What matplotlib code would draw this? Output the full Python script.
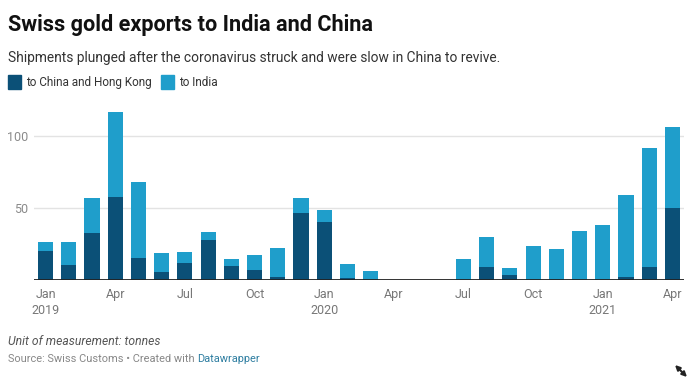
import matplotlib
matplotlib.use("Agg")
import matplotlib.pyplot as plt
import numpy as np

plt.rcParams["font.family"] = ["Roboto", "DejaVu Sans"]

# monthly values, Jan 2019 .. Apr 2021 (tonnes)
months = ["Jan 2019", "Feb 2019", "Mar 2019", "Apr 2019", "May 2019", "Jun 2019",
          "Jul 2019", "Aug 2019", "Sep 2019", "Oct 2019", "Nov 2019", "Dec 2019",
          "Jan 2020", "Feb 2020", "Mar 2020", "Apr 2020", "May 2020", "Jun 2020",
          "Jul 2020", "Aug 2020", "Sep 2020", "Oct 2020", "Nov 2020", "Dec 2020",
          "Jan 2021", "Feb 2021", "Mar 2021", "Apr 2021"]
china_hk = [20.1, 10.4, 32.6, 57.6, 15.3, 5.6, 11.8, 27.8, 9.7, 6.9, 2.1, 46.5,
            40.3, 1.4, 0, 0, 0, 0, 0, 9.0, 3.5, 0, 0, 0, 0, 2.1, 9.0, 50.0]
india = [6.3, 16.0, 24.4, 59.1, 52.7, 13.2, 7.6, 5.5, 4.9, 10.5, 20.1, 10.5,
         8.3, 9.7, 6.3, 0, 0, 0, 14.6, 20.9, 4.8, 23.6, 21.5, 34.0, 38.2, 56.9, 82.7, 56.3]
tick_pos = [0, 3, 6, 9, 12, 15, 18, 21, 24, 27]
tick_labels = ["Jan\n2019", "Apr", "Jul", "Oct", "Jan\n2020", "Apr", "Jul", "Oct", "Jan\n2021", "Apr"]
y_ticks = [50, 100]

DARK = "#0b5077"
LIGHT = "#1f9ecb"

W, H = 690, 381
fig = plt.figure(figsize=(W / 100, H / 100), dpi=100)


def fx(px):
    return px / W


def fy(py):
    return 1 - py / H


ax = fig.add_axes([fx(34), fy(280), fx(684) - fx(34), fy(280 - 172.8) - fy(280)])
x = np.arange(len(months))
ax.bar(x, china_hk, width=0.65, color=DARK, zorder=3)
ax.bar(x, india, width=0.65, bottom=china_hk, color=LIGHT, zorder=3)

ax.set_xlim(-0.5, 27.5)
ax.set_ylim(0, 120)
for v in y_ticks:
    ax.axhline(v, color="#e3e3e3", lw=1, zorder=1)
ax.axhline(0, color="#222222", lw=1.3, zorder=4)
ax.set_yticks(y_ticks)
ax.set_yticklabels([str(v) for v in y_ticks], color="#8a8a8a", fontsize=9)
ax.tick_params(axis="y", length=0, pad=4)
ax.set_xticks(tick_pos)
ax.set_xticklabels(tick_labels, color="#777777", fontsize=9, linespacing=1.25)
ax.tick_params(axis="x", length=0, pad=6)
for s in ax.spines.values():
    s.set_visible(False)

fig.text(fx(8), fy(31), "Swiss gold exports to India and China", fontsize=15.6,
         fontweight="bold", color="#111111", va="baseline")
fig.text(fx(8), fy(62), "Shipments plunged after the coronavirus struck and were slow in China to revive.",
         fontsize=9.9, color="#333333", va="baseline")

# legend
fig.patches.append(plt.Rectangle((fx(8), fy(89)), fx(13), fy(75) - fy(89),
                                 transform=fig.transFigure, color=DARK))
fig.text(fx(26), fy(86), "to China and Hong Kong", fontsize=8.5, color="#333333", va="baseline")
fig.patches.append(plt.Rectangle((fx(161), fy(89)), fx(13), fy(75) - fy(89),
                                 transform=fig.transFigure, color=LIGHT))
fig.text(fx(179), fy(86), "to India", fontsize=8.5, color="#333333", va="baseline")

fig.text(fx(8), fy(345), "Unit of measurement: tonnes", fontsize=8.7, style="italic",
         color="#555555", va="baseline")
src = fig.text(fx(8), fy(362), "Source: Swiss Customs \u2022 Created with ", fontsize=7.95,
               color="#888888", va="baseline")
fig.canvas.draw()
bb = src.get_window_extent()
fig.text(bb.x1 / W, fy(362), "Datawrapper", fontsize=7.95, color="#2f7ea1", va="baseline")

# resize icon (no installed font has the double diagonal arrow glyph)
fig.add_artist(matplotlib.patches.FancyArrowPatch(
    (fx(675), fy(365)), (fx(687), fy(377)), transform=fig.transFigure,
    arrowstyle="<|-|>", mutation_scale=7, lw=1.5, color="#222222",
    shrinkA=0, shrinkB=0))

fig.savefig("out.png", dpi=100)
